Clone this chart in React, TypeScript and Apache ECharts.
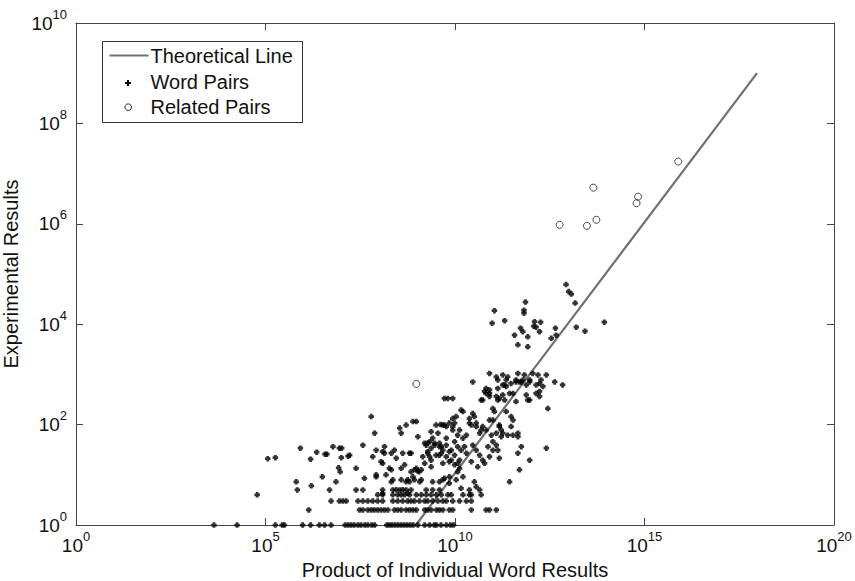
import React, { useEffect, useRef } from "react";
import * as echarts from "echarts";

const FONT = '"Liberation Sans", Arial, Helvetica, sans-serif';

const xTickValues = [1, 1e5, 1e10, 1e15, 1e20];
const yTickValues = [1, 1e2, 1e4, 1e6, 1e8, 1e10];

const legendLabels = ["Theoretical Line", "Word Pairs", "Related Pairs"];

// Word pairs. X values given as log10 exponents.
// Rows of integer experimental results (y = 1, 2, 3, 4, 5)
const rowY1 = [3.64, 4.25, 5.26, 5.44, 5.5, 5.98, 6.19, 6.42, 6.56, 6.73, 7.1, 7.18, 7.26, 7.34, 7.44, 7.52, 7.62, 7.7, 7.8, 7.88, 8.2, 8.27, 8.34, 8.42, 8.5, 8.58, 8.66, 8.74, 8.82, 8.9, 9.02, 9.2, 9.33, 9.45, 9.51, 9.63, 9.77, 9.88, 9.96];
const rowY2 = [6.14, 7.48, 7.57, 7.7, 7.79, 7.87, 7.96, 8.05, 8.14, 8.23, 8.4, 8.49, 8.58, 8.71, 8.8, 8.89, 8.98, 9.2, 9.28, 9.37, 9.51, 9.59, 9.68, 9.85, 9.94, 10.43, 10.82, 10.91, 11.09];
const rowY3 = [6.73, 6.95, 7.04, 7.13, 7.44, 7.57, 7.7, 7.83, 7.96, 8.09, 8.36, 8.49, 8.62, 8.75, 8.84, 8.93, 9.06, 9.2, 9.28, 9.41, 9.55, 9.68, 9.77, 9.94, 10.12, 10.3, 10.43];
const rowY4 = [4.78, 7.96, 8.09, 8.36, 8.49, 8.58, 8.67, 8.8, 8.98, 9.11, 9.24, 9.37, 9.51, 9.64, 9.81, 9.9, 10.21, 10.38, 10.43, 10.69];
const rowY5 = [5.84, 6.69, 7.39, 7.57, 8.09, 8.36, 8.54, 8.71, 8.84, 9.24, 9.41, 9.59, 10.38, 10.65];

// Remaining word pairs as [log10 x, log10 y]
const wordPairsLog: [number, number][] = [
  [5.06, 1.32], [5.26, 1.34], [5.92, 1.53], [5.81, 0.86], [6.19, 1.31], [6.35, 1.45], [6.5, 0.96], [6.57, 1.41], [6.62, 1.41], [6.78, 1.56], [6.86, 0.86], [6.93, 1.14], [6.97, 1.06], [7.01, 1.53], [7.18, 1.37], [6.21, 0.78],
  [7.0, 1.34], [7.22, 1.39], [7.39, 1.13], [7.57, 1.59], [7.61, 0.93], [7.79, 2.16], [7.83, 1.36], [7.88, 1.83], [7.92, 0.96], [8.05, 1.26], [8.09, 1.46], [8.18, 1.0], [8.32, 1.1], [8.36, 0.9], [8.4, 1.49], [8.45, 1.33], [8.54, 1.93], [8.58, 1.83], [8.62, 1.43], [8.67, 1.2], [8.71, 1.99], [8.75, 0.9], [8.84, 1.43], [8.84, 1.06], [8.89, 0.96], [8.93, 0.9], [8.98, 2.06], [8.98, 1.13], [9.05, 1.06], [9.11, 1.1], [9.11, 0.9], [9.2, 1.23], [9.24, 1.59], [9.28, 1.46], [9.33, 1.36], [9.37, 1.16], [9.41, 1.73], [9.46, 1.63], [9.5, 1.99], [9.55, 1.83], [9.59, 1.39], [9.64, 1.56], [9.68, 1.23], [9.72, 1.99], [9.77, 1.73], [9.81, 2.52], [9.94, 2.52], [9.85, 2.03], [9.94, 1.89], [9.99, 1.66], [10.03, 2.16], [10.07, 1.79], [10.16, 2.29], [10.21, 1.73], [10.12, 1.29], [9.85, 0.96], [9.68, 0.9], [6.95, 1.53],
  [9.02, 1.76], [8.89, 2.06], [9.62, 2.0], [9.37, 1.86], [9.2, 1.63], [9.28, 1.63], [9.33, 1.66], [9.46, 1.59], [9.59, 1.56], [9.37, 1.53], [9.5, 1.39], [9.64, 1.43], [9.77, 1.36], [9.9, 1.49], [9.99, 1.39], [9.28, 1.43], [9.15, 1.36], [9.37, 1.29], [9.85, 1.26], [10.07, 1.23], [7.92, 1.49], [8.14, 1.56], [8.14, 1.43], [8.32, 1.43], [8.8, 1.43], [8.09, 1.23], [8.27, 1.13], [8.58, 1.13], [8.93, 1.1], [9.02, 1.08], [9.07, 0.86], [7.92, 1.0], [8.32, 0.86], [8.58, 0.9], [8.71, 0.86], [8.8, 0.86], [9.41, 0.86], [9.59, 0.86], [8.09, 0.63], [8.45, 0.7], [8.62, 0.7], [8.75, 0.63],
  [10.47, 2.85], [10.82, 2.72], [10.91, 2.69], [10.82, 2.62], [11.13, 2.72], [11.26, 2.79], [11.35, 2.76], [11.48, 2.82], [11.61, 2.85], [11.75, 2.85], [11.88, 2.79], [11.97, 2.85], [12.14, 2.79], [12.23, 2.82], [12.63, 2.85], [12.84, 2.79], [10.91, 2.56], [10.69, 2.49], [11.26, 2.59], [11.53, 2.62], [11.88, 2.59], [11.92, 2.49], [12.14, 2.62], [12.23, 2.56], [9.72, 2.52], [10.21, 2.26], [10.47, 2.22], [10.51, 2.16], [9.68, 1.99], [9.77, 1.96], [9.94, 2.12], [9.99, 2.03], [10.12, 1.89], [10.3, 1.79], [10.38, 2.03], [10.56, 1.96], [10.65, 1.83], [10.69, 1.89], [10.73, 1.96], [10.91, 2.09], [11.0, 1.66], [11.09, 1.83], [11.17, 1.96], [11.22, 1.89], [11.26, 1.83], [11.39, 1.79], [11.48, 1.96], [11.53, 1.79], [11.66, 1.83], [11.75, 1.56], [11.66, 1.43], [11.97, 1.29], [11.7, 1.1], [12.41, 1.53], [12.45, 2.32], [11.44, 0.86],
  [9.59, 1.63], [9.68, 1.49], [9.77, 1.59], [9.85, 1.46], [10.07, 1.56], [10.16, 1.49], [10.25, 1.56], [10.3, 1.43], [10.47, 1.59], [10.56, 1.49], [10.65, 1.39], [10.73, 1.29], [10.78, 1.23], [10.6, 1.16], [10.43, 1.26], [9.9, 1.29], [9.99, 1.2], [10.07, 1.06], [10.12, 1.13], [10.21, 0.96], [10.03, 0.9], [9.85, 0.83], [9.72, 0.93], [10.16, 0.73], [10.51, 0.86], [10.56, 0.76], [11.0, 1.49], [11.09, 1.59], [11.13, 1.49], [11.17, 1.33], [10.91, 1.36], [10.87, 1.56],
  [10.91, 3.02], [11.09, 2.95], [11.13, 2.89], [11.26, 2.99], [11.35, 2.89], [11.39, 2.95], [11.31, 2.79], [11.61, 2.89], [11.66, 3.02], [11.7, 2.85], [11.79, 2.89], [11.83, 2.99], [11.97, 2.89], [12.05, 3.02], [12.19, 2.99], [12.27, 2.89], [12.32, 2.76], [12.41, 2.99], [10.78, 2.66], [10.91, 2.62], [11.09, 2.56], [11.13, 2.49], [11.17, 2.52], [10.73, 2.49], [11.44, 2.62], [11.31, 2.49], [11.61, 2.46], [11.97, 2.49], [12.23, 2.66], [10.38, 2.12], [10.56, 2.03], [10.43, 1.99], [11.0, 2.32], [11.04, 2.26], [11.35, 2.26], [11.48, 2.16], [11.53, 2.09], [11.0, 2.09], [11.17, 1.99], [10.82, 1.89], [9.94, 1.96], [10.96, 1.79], [11.22, 1.76], [11.66, 1.76],
  [11.57, 3.78], [11.79, 3.85], [11.92, 3.75], [12.23, 3.85], [11.66, 3.59], [11.92, 3.55], [12.54, 3.72], [12.67, 3.78],
  [12.93, 4.79], [13.0, 4.65], [13.07, 4.6], [13.17, 4.42], [13.2, 3.94], [13.43, 3.86], [13.94, 4.04], [11.86, 4.44], [11.82, 4.28], [11.82, 4.22], [11.04, 4.27], [10.98, 4.02], [11.31, 4.07], [11.73, 3.92], [12.1, 4.05], [12.08, 3.96], [12.14, 3.94], [12.26, 4.04], [12.65, 3.92]
];

// Related pairs as [log10 x, log10 y]
const relatedPairsLog: [number, number][] = [
  [12.76, 5.98], [13.48, 5.96], [13.73, 6.08], [13.65, 6.72], [14.83, 6.54], [14.79, 6.41], [15.89, 7.24], [8.98, 2.81]
];

// Theoretical line end points (x, y)
const theoreticalLine: [number, number][] = [[9.3e8, 1], [9.3e17, 1e9]];

const PLUS = "path://M1.5,0H4.5V1.5H6V4.5H4.5V6H1.5V4.5H0V1.5H1.5Z";

function buildWordPairs(): [number, number][] {
  const out: [number, number][] = [];
  const rows: [number[], number][] = [[rowY1, 1], [rowY2, 2], [rowY3, 3], [rowY4, 4], [rowY5, 5]];
  rows.forEach(([xs, y]) => xs.forEach((e) => out.push([Math.pow(10, e), y])));
  wordPairsLog.forEach(([ex, ey]) => out.push([Math.pow(10, ex), Math.pow(10, ey)]));
  return out;
}

const powLabel = (v: number) => `{b|10}{e|${Math.round(Math.log10(v))}}`;

const richLabel = {
  b: { fontSize: 19, fontFamily: FONT, color: "#111" },
  e: { fontSize: 13, fontFamily: FONT, color: "#111", padding: [0, 0, 18, 0] },
};

export default function App() {
  const ref = useRef<HTMLDivElement>(null);
  useEffect(() => {
    if (!ref.current) return;
    const chart = echarts.init(ref.current, undefined, { renderer: "svg" });
    const axisLineStyle = { color: "#444", width: 1 };
    const baseX = {
      type: "log" as const,
      logBase: 10,
      min: 1,
      max: 1e20,
      splitLine: { show: false },
      minorTick: { show: false },
      axisLine: { show: true, lineStyle: axisLineStyle },
      axisTick: { show: true, inside: true, length: 7, customValues: xTickValues, lineStyle: axisLineStyle },
    };
    const baseY = {
      type: "log" as const,
      logBase: 10,
      min: 1,
      max: 1e10,
      splitLine: { show: false },
      minorTick: { show: false },
      axisLine: { show: true, lineStyle: axisLineStyle },
      axisTick: { show: true, inside: true, length: 7, customValues: yTickValues, lineStyle: axisLineStyle },
    };
    const legendX = 102, legendY = 41;
    chart.setOption({
      animation: false,
      backgroundColor: "#fff",
      grid: { left: 76, right: 21, top: 23, bottom: 56, containLabel: false, outerBoundsMode: "none" },
      xAxis: [
        {
          ...baseX,
          position: "bottom",
          name: "Product of Individual Word Results",
          nameLocation: "middle",
          nameGap: 32,
          nameTextStyle: { fontSize: 20, fontFamily: FONT, color: "#111" },
          axisLabel: { customValues: xTickValues, formatter: powLabel, rich: richLabel, margin: 5 },
        },
        { ...baseX, position: "top", axisLabel: { show: false } },
      ],
      yAxis: [
        {
          ...baseY,
          position: "left",
          name: "Experimental Results",
          nameLocation: "middle",
          nameGap: 46,
          nameTextStyle: { fontSize: 20, fontFamily: FONT, color: "#111" },
          axisLabel: { customValues: yTickValues, formatter: powLabel, rich: richLabel, margin: 9 },
        },
        { ...baseY, position: "right", axisLabel: { show: false } },
      ],
      series: [
        {
          name: legendLabels[0],
          type: "line",
          data: theoreticalLine,
          symbol: "none",
          lineStyle: { color: "#707070", width: 2.2 },
          z: 1,
        },
        {
          name: legendLabels[1],
          type: "scatter",
          data: buildWordPairs(),
          symbol: PLUS,
          symbolSize: 5.5,
          itemStyle: { color: "#000" },
          z: 2,
        },
        {
          name: legendLabels[2],
          type: "scatter",
          data: relatedPairsLog.map(([ex, ey]) => [Math.pow(10, ex), Math.pow(10, ey)]),
          symbol: "circle",
          symbolSize: 7,
          itemStyle: { color: "rgba(0,0,0,0)", borderColor: "#222", borderWidth: 1 },
          z: 3,
        },
      ],
      graphic: [
        {
          type: "group",
          left: legendX,
          top: legendY,
          z: 100,
          children: [
            { type: "rect", shape: { x: 0, y: 0, width: 200, height: 81 }, style: { fill: "#fff", stroke: "#333", lineWidth: 1 } },
            { type: "line", shape: { x1: 7, y1: 14, x2: 46, y2: 14 }, style: { stroke: "#707070", lineWidth: 2.2 } },
            { type: "polygon", shape: { points: [[24.5, 38.5], [26.5, 38.5], [26.5, 40.5], [28.5, 40.5], [28.5, 42.5], [26.5, 42.5], [26.5, 44.5], [24.5, 44.5], [24.5, 42.5], [22.5, 42.5], [22.5, 40.5], [24.5, 40.5]] }, style: { fill: "#000" } },
            { type: "circle", shape: { cx: 25.7, cy: 65.7, r: 3.3 }, style: { fill: "none", stroke: "#222", lineWidth: 1 } },
            { type: "text", x: 48, y: 14, style: { text: legendLabels[0], fontSize: 20, fontFamily: FONT, fill: "#111", verticalAlign: "middle" } },
            { type: "text", x: 48, y: 40.7, style: { text: legendLabels[1], fontSize: 20, fontFamily: FONT, fill: "#111", verticalAlign: "middle" } },
            { type: "text", x: 48, y: 65.7, style: { text: legendLabels[2], fontSize: 20, fontFamily: FONT, fill: "#111", verticalAlign: "middle" } },
          ],
        },
      ],
    });
    return () => chart.dispose();
  }, []);
  return <div ref={ref} style={{ position: "fixed", left: 0, top: 0, width: 855, height: 581, background: "#fff" }} />;
}
